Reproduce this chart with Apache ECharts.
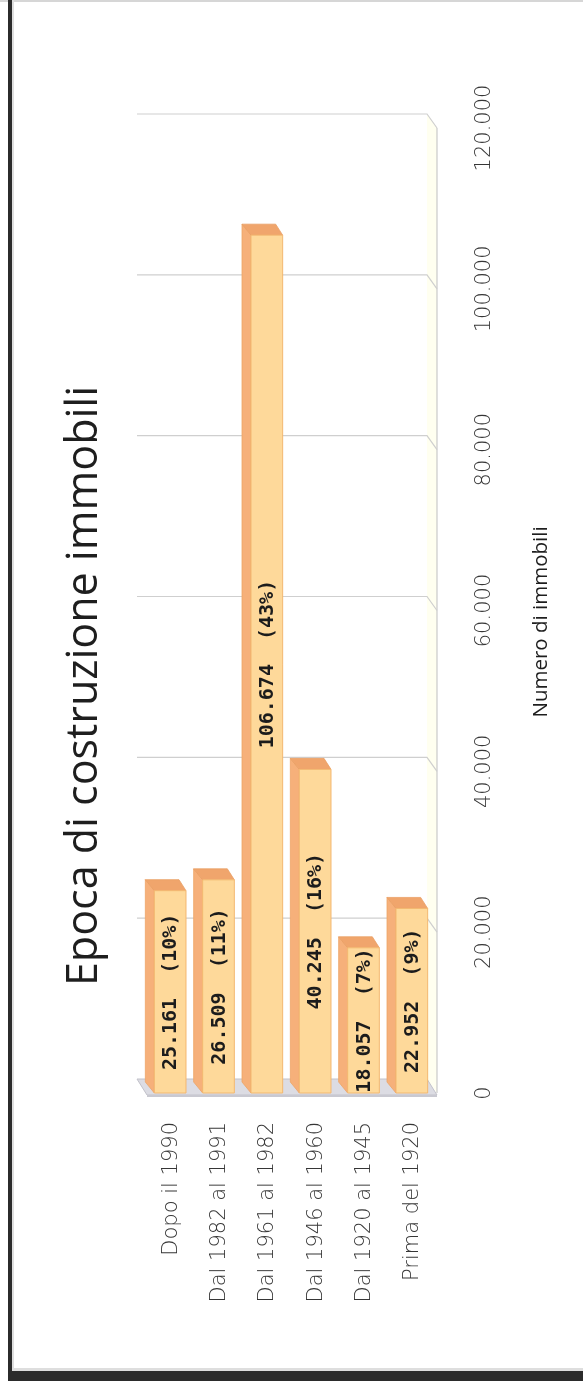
<!DOCTYPE html>
<html>
<head>
<meta charset="utf-8">
<script src="https://cdn.jsdelivr.net/npm/echarts@6/dist/echarts.min.js"></script>
<style>
  html, body { margin: 0; padding: 0; background: #ffffff; }
  #chart { width: 583px; height: 1381px; }
</style>
</head>
<body>
<div id="chart"></div>
<script>
// Construction period of buildings: counts and share of the total
const categories = ['Dopo il 1990', 'Dal 1982 al 1991', 'Dal 1961 al 1982', 'Dal 1946 al 1960', 'Dal 1920 al 1945', 'Prima del 1920'];
const counts = [25161, 26509, 106674, 40245, 18057, 22952];
const shares = [10, 11, 43, 16, 7, 9];
const valueTicks = [0, 20000, 40000, 60000, 80000, 100000, 120000];
const titleText = 'Epoca di costruzione immobili';
const axisTitle = 'Numero di immobili';

// Italian thousands separator
function fmt(n) { return String(n).replace(/\B(?=(\d{3})+(?!\d))/g, '.'); }

// pseudo-3D depth offsets (screen px) for the walls and for the bars
const WALL_D = [-10, -14];
const BAR_D = [-9, -11];

const LABEL_FONT = '"DejaVu Sans", sans-serif';

const chart = echarts.init(document.getElementById('chart'), null, { renderer: 'canvas' });

// walls: cream side wall on the right and the grey floor
function renderWalls(params, api) {
  const cs = params.coordSys;
  const xl = cs.x, xr = cs.x + cs.width;
  const yTop = api.coord([0, valueTicks[valueTicks.length - 1]])[1];
  const yBase = api.coord([0, 0])[1];
  const [dx, dy] = WALL_D;
  return {
    type: 'group',
    children: [
      {
        type: 'polygon',
        shape: { points: [[xr, yTop], [xr + dx, yTop + dy], [xr + dx, yBase + dy], [xr, yBase]] },
        style: { fill: '#fffff0', stroke: null }
      },
      {
        type: 'line',
        shape: { x1: xr, y1: yTop, x2: xr, y2: yBase },
        style: { stroke: '#c9c9c9', lineWidth: 1.2 }
      },
      {
        type: 'polygon',
        shape: { points: [[xl, yBase + 2], [xl + dx, yBase + dy], [xr + dx, yBase + dy], [xr, yBase + 2]] },
        style: { fill: '#dcdce3', stroke: '#c2c2ca', lineWidth: 1 }
      },
      {
        type: 'rect',
        shape: { x: xl, y: yBase + 2, width: xr - xl, height: 2 },
        style: { fill: '#c9c9d1' }
      }
    ]
  };
}

// grid lines along the back wall, bending forward at the side wall
function renderGridLine(params, api) {
  const v = api.value(1);
  if (v === 0) return { type: 'group', children: [] };
  const cs = params.coordSys;
  const xl = cs.x, xr = cs.x + cs.width;
  const y = api.coord([0, v])[1];
  const [dx, dy] = WALL_D;
  return {
    type: 'polyline',
    shape: { points: [[xl + dx, y + dy], [xr + dx, y + dy], [xr, y]] },
    style: { stroke: '#cfcfcf', lineWidth: 1.2, fill: null }
  };
}

// 3D-looking bars with the value and share printed on the front face
function renderBar(params, api) {
  const i = api.value(0);
  const v = api.value(1);
  const share = api.value(2);
  const base = api.coord([i, 0]);
  const top = api.coord([i, v]);
  const band = api.size([1, 0])[0];
  const w = band * 0.655;
  const cx = base[0] - 1;
  const fl = cx - w / 2, fr = cx + w / 2;
  const yb = base[1], yt = top[1];
  const [dx, dy] = BAR_D;
  return {
    type: 'group',
    children: [
      {
        type: 'polygon',
        shape: { points: [[fl, yt], [fl + dx, yt + dy], [fl + dx, yb + dy], [fl, yb]] },
        style: { fill: '#f6b07a', stroke: '#eea466', lineWidth: 0.8 }
      },
      {
        type: 'polygon',
        shape: { points: [[fl, yt], [fl + dx, yt + dy], [fr + dx + 2, yt + dy], [fr, yt]] },
        style: { fill: '#f0a56c', stroke: '#eaa064', lineWidth: 0.8 }
      },
      {
        type: 'rect',
        shape: { x: fl, y: yt, width: fr - fl, height: yb - yt },
        style: { fill: '#fed99a', stroke: '#f3b870', lineWidth: 1 }
      },
      {
        type: 'text',
        x: cx + 1,
        y: (yt + yb) / 2,
        rotation: Math.PI / 2,
        style: {
          text: fmt(v) + '  (' + share + '%)',
          fontFamily: '"DejaVu Sans Mono", monospace',
          fontSize: 20,
          fontWeight: 'bold',
          fill: '#1c1c1c',
          align: 'center',
          verticalAlign: 'middle'
        },
        z2: 10
      }
    ]
  };
}

const option = {
  backgroundColor: '#ffffff',
  animation: false,
  grid: { left: 147, right: 146, top: 128, bottom: 288, containLabel: false },
  xAxis: {
    type: 'category',
    data: categories,
    axisLine: { show: false },
    axisTick: { show: false },
    splitLine: { show: false },
    axisLabel: {
      rotate: 90,
      margin: 29,
      interval: 0,
      color: '#363636',
      fontFamily: LABEL_FONT,
      fontWeight: 200,
      fontSize: 21
    }
  },
  yAxis: {
    type: 'value',
    position: 'right',
    min: 0,
    max: 120000,
    interval: 20000,
    axisLine: { show: false },
    axisTick: { show: false },
    splitLine: { show: false },
    axisLabel: {
      rotate: 90,
      margin: 37,
      color: '#363636',
      fontFamily: LABEL_FONT,
      fontWeight: 200,
      fontSize: 21,
      formatter: (v) => fmt(v)
    }
  },
  graphic: [
    // frame: light top edge, dark left and bottom edges
    { type: 'rect', shape: { x: 0, y: 0, width: 583, height: 2 }, style: { fill: '#d6d6d6' }, z: 100 },
    { type: 'rect', shape: { x: 12, y: 0, width: 2, height: 1371 }, style: { fill: '#dedede' }, z: 100 },
    { type: 'rect', shape: { x: 12, y: 1368, width: 571, height: 3 }, style: { fill: '#dedede' }, z: 100 },
    { type: 'rect', shape: { x: 8, y: 0, width: 4, height: 1381 }, style: { fill: '#2b2b2b' }, z: 101 },
    { type: 'rect', shape: { x: 8, y: 1371, width: 575, height: 10 }, style: { fill: '#2b2b2b' }, z: 101 },
    {
      type: 'text',
      x: 85, y: 686,
      rotation: Math.PI / 2,
      style: {
        text: titleText,
        fontFamily: '"Open Sans", sans-serif',
        fontSize: 43,
        fill: '#1e1e1e',
        align: 'center',
        verticalAlign: 'middle'
      },
      z: 100
    },
    {
      type: 'text',
      x: 541, y: 622,
      rotation: Math.PI / 2,
      style: {
        text: axisTitle,
        fontFamily: '"Open Sans", sans-serif',
        fontSize: 20.5,
        fill: '#1e1e1e',
        align: 'center',
        verticalAlign: 'middle'
      },
      z: 100
    }
  ],
  series: [
    {
      type: 'custom',
      name: 'walls',
      renderItem: renderWalls,
      data: [[0, 0]],
      z: 1,
      silent: true
    },
    {
      type: 'custom',
      name: 'grid',
      renderItem: renderGridLine,
      data: valueTicks.map((v) => [0, v]),
      z: 2,
      silent: true
    },
    {
      type: 'custom',
      name: 'Numero di immobili',
      renderItem: renderBar,
      data: counts.map((v, i) => [i, v, shares[i]]),
      encode: { x: 0, y: 1 },
      z: 5
    }
  ]
};

chart.setOption(option);
</script>
</body>
</html>
